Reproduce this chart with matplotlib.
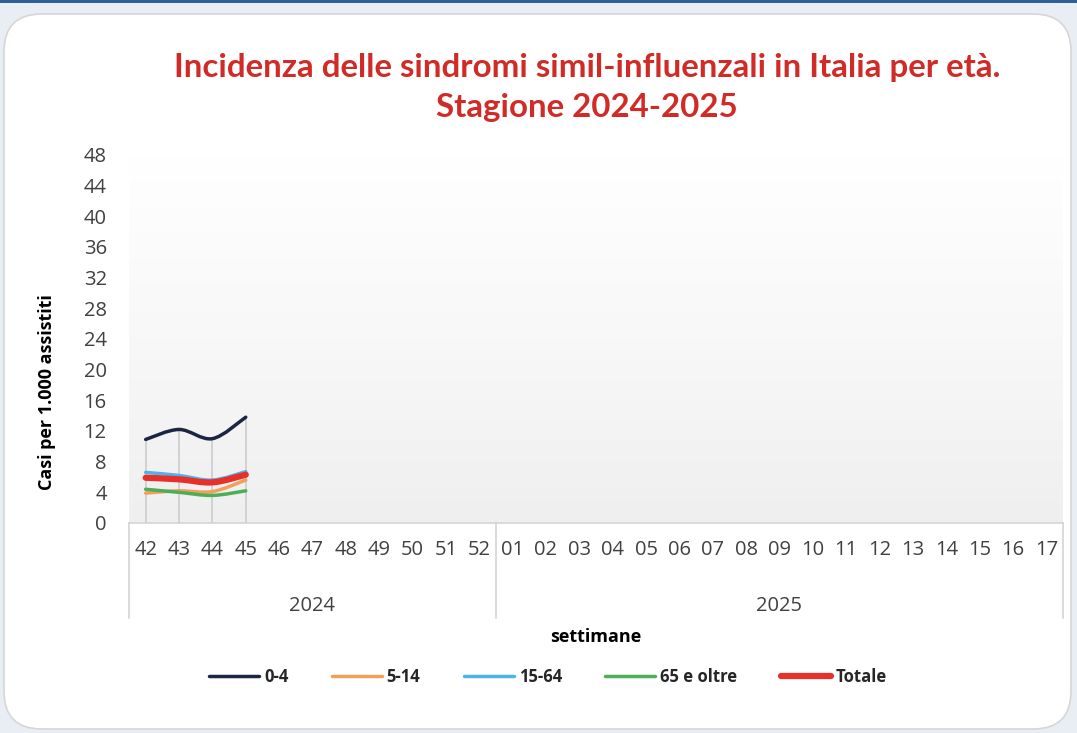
import matplotlib
matplotlib.use("Agg")
import matplotlib.pyplot as plt
import numpy as np
from matplotlib.path import Path
from matplotlib.patches import PathPatch, FancyBboxPatch, Rectangle
from matplotlib.lines import Line2D
from matplotlib.colors import LinearSegmentedColormap
import matplotlib.transforms as mtransforms

# ---------------- data ----------------
weeks_2024 = ["42", "43", "44", "45", "46", "47", "48", "49", "50", "51", "52"]
weeks_2025 = ["01", "02", "03", "04", "05", "06", "07", "08", "09", "10",
              "11", "12", "13", "14", "15", "16", "17"]
years = ["2024", "2025"]
series_names = ["0-4", "5-14", "15-64", "65 e oltre", "Totale"]
v_0_4 = [10.9, 12.2, 11.0, 13.8]
v_5_14 = [3.9, 4.2, 4.1, 5.6]
v_15_64 = [6.6, 6.2, 5.6, 6.7]
v_65 = [4.4, 4.0, 3.6, 4.2]
v_tot = [5.9, 5.7, 5.3, 6.3]
y_ticks = list(range(0, 49, 4))

colors = ["#1c2541", "#f0a05a", "#4db3ea", "#4caf55", "#e8302a"]
widths = [2.5, 2.5, 2.5, 2.5, 4.5]
values = [v_0_4, v_5_14, v_15_64, v_65, v_tot]

FONT = ["Open Sans", "DejaVu Sans"]
plt.rcParams["font.family"] = FONT

W, H = 1077, 733
fig = plt.figure(figsize=(W / 100, H / 100), dpi=100)
fig.patch.set_facecolor("#e9eef4")

# background card
card = FancyBboxPatch((4 / W, 4 / H), (W - 10) / W, (H - 18) / H,
                      boxstyle="round,pad=0,rounding_size=0.035",
                      transform=fig.transFigure, facecolor="white",
                      edgecolor="#d6d6d6", linewidth=1.2, zorder=-10,
                      mutation_aspect=W / H)
fig.patches.append(card)
fig.patches.append(Rectangle((0, 1 - 3 / H), 1, 3 / H, transform=fig.transFigure,
                             facecolor="#2f5f98", edgecolor="none", zorder=-9))

# axes
left, right, top, bottom = 129, 1063, 155, 523
ax = fig.add_axes([left / W, 1 - bottom / H, (right - left) / W, (bottom - top) / H])
ax.set_zorder(1)
ax.set_facecolor("none")
labels = weeks_2024 + weeks_2025
n = len(labels)

# gradient background (white at top, light grey at bottom)
grad = np.linspace(0, 1, 256).reshape(-1, 1)
cmap = LinearSegmentedColormap.from_list("g", ["#ffffff", "#f8f8f8", "#efefef"])
ax.imshow(grad, extent=[0, 1, 0, 1], transform=ax.transAxes, aspect="auto",
          cmap=cmap, zorder=0, interpolation="bilinear")
ax.set_xlim(-0.5, n - 0.5)
ax.set_ylim(0, 48)

for s in ["top", "right", "left"]:
    ax.spines[s].set_visible(False)
ax.spines["bottom"].set_color("#d4d4d4")
ax.spines["bottom"].set_linewidth(1.2)

ax.set_yticks(y_ticks)
ax.set_yticklabels([str(t) for t in y_ticks], fontsize=14.5, color="#404040")
ax.tick_params(axis="y", length=0, pad=16)
ax.set_xticks(range(n))
ax.set_xticklabels(labels, fontsize=14.5, color="#404040")
ax.tick_params(axis="x", length=0, pad=12)

# drop lines
npts = len(v_0_4)
for i in range(npts):
    top_v = max(v[i] for v in values)
    ax.plot([i, i], [0, top_v], color="#cfcfcf", lw=1.3, zorder=2)


def smooth_path(xs, ys):
    pts = np.column_stack([xs, ys]).astype(float)
    verts = [pts[0]]
    codes = [Path.MOVETO]
    m = len(pts)
    for i in range(m - 1):
        p0 = pts[i - 1] if i > 0 else pts[i]
        p1 = pts[i]
        p2 = pts[i + 1]
        p3 = pts[i + 2] if i + 2 < m else pts[i + 1]
        c1 = p1 + (p2 - p0) / 6.0
        c2 = p2 - (p3 - p1) / 6.0
        verts += [c1, c2, p2]
        codes += [Path.CURVE4] * 3
    return Path(verts, codes)


for name, v, c, lw in zip(series_names, values, colors, widths):
    p = smooth_path(np.arange(len(v)), v)
    ax.add_patch(PathPatch(p, facecolor="none", edgecolor=c, lw=lw,
                           capstyle="round", joinstyle="round", zorder=3))

# multi-level axis separators
trans = mtransforms.blended_transform_factory(ax.transData, ax.transAxes)
sep_depth = -95 / (bottom - top)
for xs in [-0.5, len(weeks_2024) - 0.5, n - 0.5]:
    ax.plot([xs, xs], [0, sep_depth], transform=trans, color="#d4d4d4",
            lw=1.2, clip_on=False, zorder=2)
year_y = -83 / (bottom - top)
ax.text((len(weeks_2024) - 1) / 2, year_y, years[0], transform=trans,
        ha="center", va="center", fontsize=14.5, color="#404040")
ax.text((len(weeks_2024) + n - 1) / 2, year_y, years[1], transform=trans,
        ha="center", va="center", fontsize=14.5, color="#404040")

# titles
fig.text(587 / W, 1 - 68 / H, "Incidenza delle sindromi simil-influenzali in Italia per età.",
         ha="center", va="center", fontsize=23.8, fontweight="bold", color="#d02b27",
         family=["Lato", "DejaVu Sans"])
fig.text(587 / W, 1 - 107 / H, "Stagione 2024-2025",
         ha="center", va="center", fontsize=23.8, fontweight="bold", color="#d02b27",
         family=["Lato", "DejaVu Sans"])
fig.text(596 / W, 1 - 637 / H, "settimane", ha="center", va="center",
         fontsize=13, fontweight="bold", color="#000000")
fig.text(47 / W, 1 - 392 / H, "Casi per 1.000 assistiti", ha="center", va="center",
         rotation=90, fontsize=13, fontweight="bold", color="#000000")

handles = [Line2D([], [], color=c, lw=lw, solid_capstyle="round")
           for c, lw in zip(colors, widths)]
leg = fig.legend(handles, series_names, loc="center", bbox_to_anchor=(548 / W, 1 - 677 / H),
                 ncol=5, frameon=False, handlelength=3.0, handletextpad=0.3,
                 columnspacing=2.6, prop={"size": 12, "weight": "bold"})
for t in leg.get_texts():
    t.set_color("#262626")

fig.savefig("out.png", dpi=100, facecolor=fig.get_facecolor())
